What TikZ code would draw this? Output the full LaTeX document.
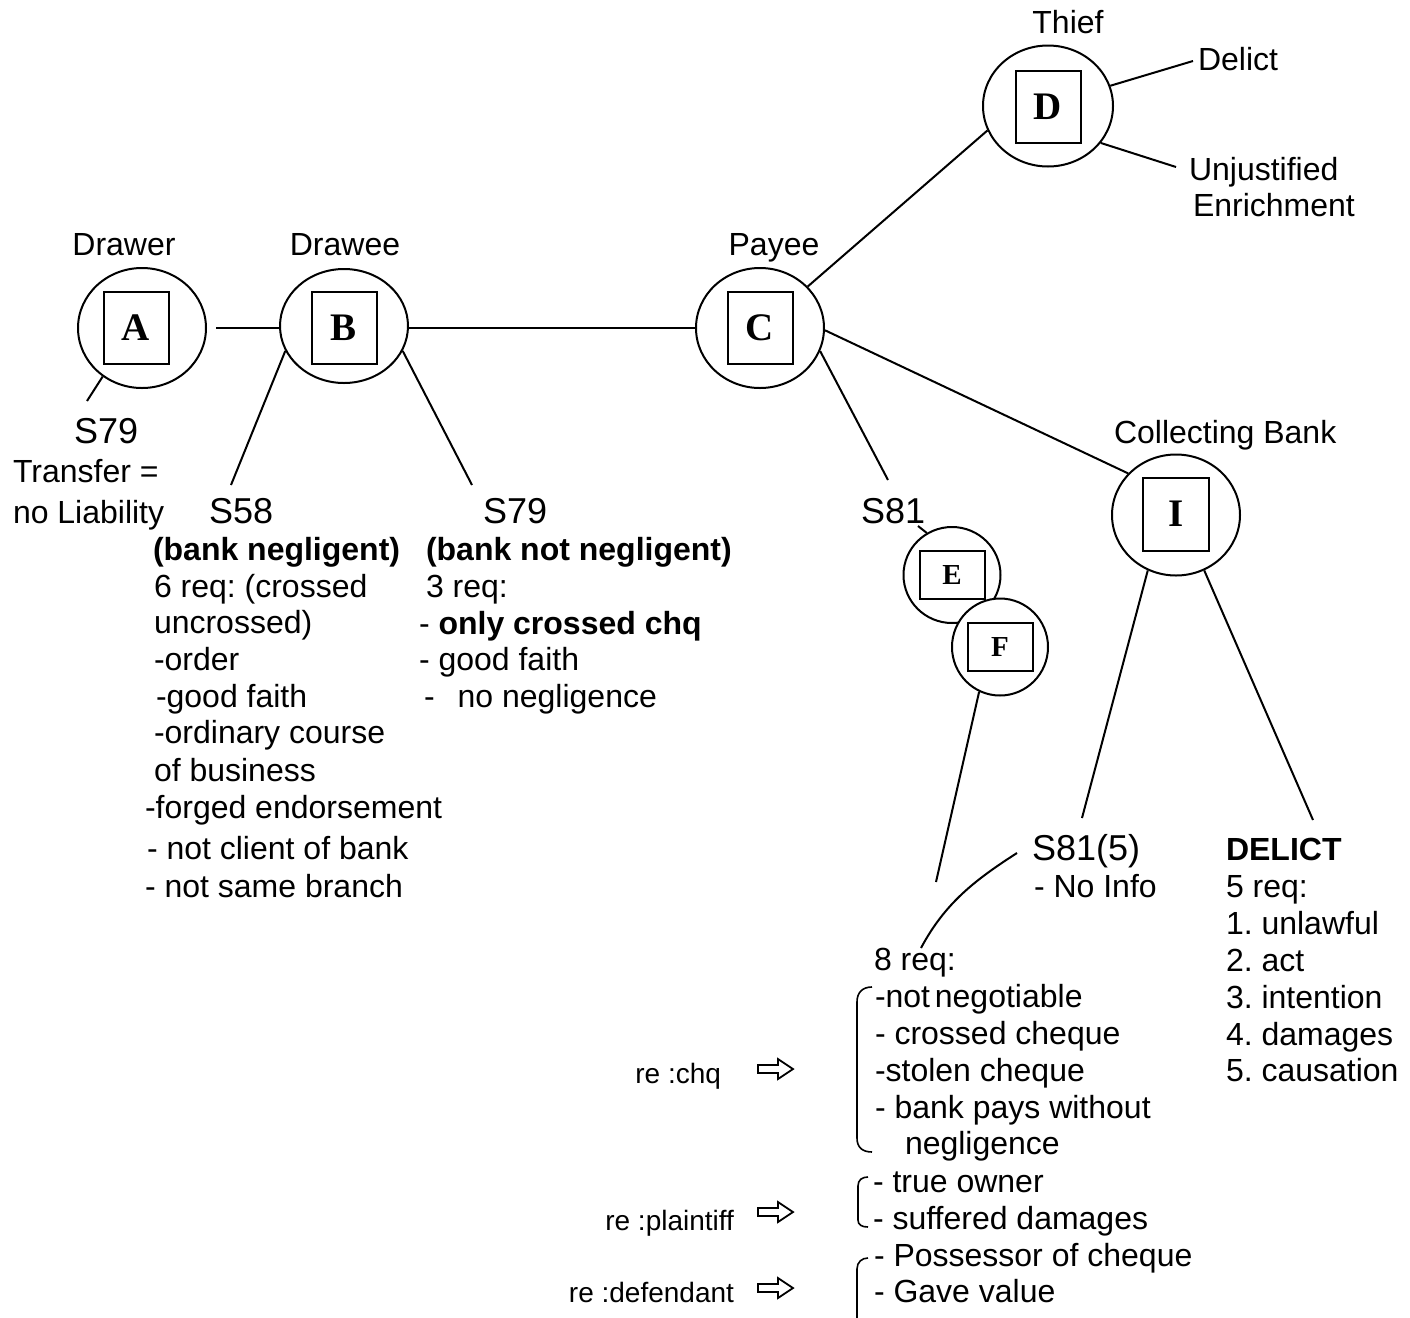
\documentclass[tikz,border=0pt]{standalone}
\usepackage{fontspec}
\setmainfont{Liberation Sans}
\newfontfamily\letterfont{Liberation Serif}
\usetikzlibrary{shapes.geometric,calc}
\frenchspacing
\begin{document}
\begin{tikzpicture}[x=0.5pt,y=-0.5pt, line width=1pt,
  circ/.style={draw, ellipse, inner sep=0pt, minimum width=64pt, minimum height=60pt},
  sq/.style={draw, rectangle, inner sep=0pt, minimum width=32.5pt, minimum height=36pt, font=\letterfont\bfseries\fontsize{19.5}{19.5}\selectfont},
  sqs/.style={draw, rectangle, inner sep=0pt, minimum width=32.5pt, minimum height=24pt, font=\letterfont\bfseries\fontsize{14.5}{14.5}\selectfont},
  txt/.style={anchor=base west, inner sep=0pt, font=\fontsize{16}{18}\selectfont},
  bigtxt/.style={anchor=base west, inner sep=0pt, font=\fontsize{18}{20}\selectfont},
  ctrtxt/.style={anchor=base, inner sep=0pt, font=\fontsize{16}{18}\selectfont},
  retxt/.style={anchor=base east, inner sep=0pt, font=\fontsize{14}{16}\selectfont},
  hollowarrow/.style={line width=0.9pt, line join=miter},
  bracketline/.style={line width=0.8pt}
]
\path[use as bounding box] (0,0) rectangle (1410,1318);

% circles
\node[circ] (cA) at (142,328) {};
\node[circ, minimum height=57pt] (cB) at (344,326) {};
\node[circ] (cC) at (760,328) {};
\node[circ, minimum width=65pt, minimum height=60.5pt] (cD) at (1048,106) {};
\node[circ, minimum height=60.5pt] (cI) at (1176,515) {};
\node[circ, minimum width=48.5pt, minimum height=48pt] (cE) at (952,575) {};
\node[circ, fill=white, minimum width=48pt, minimum height=48.5pt] (cF) at (1000,647) {};

% letter boxes
\node[sq] (bA) at (136,328) {A};
\node[sq] (bB) at (344,328) {B};
\node[sq] (bC) at (760,328) {C};
\node[sq] (bD) at (1048,107) {D};
\node[sq, minimum width=33pt, minimum height=36.5pt] (bI) at (1176,514) {I};
\node[sqs] (bE) at (952,575) {E};
\node[sqs] (bF) at (1000,647) {F};

% party labels
\node[ctrtxt] (lDrawer) at (124,255) {Drawer};
\node[ctrtxt] (lDrawee) at (345,255) {Drawee};
\node[ctrtxt] (lPayee) at (774,255) {Payee};
\node[ctrtxt] (lThief) at (1068,33) {Thief};
\node[txt] (lColl) at (1113,443) {Collecting Bank};
\node[txt] (lDelict) at (1197,70) {Delict};
\node[txt] (lUnj) at (1188,180) {Unjustified};
\node[txt] (lEnr) at (1192,216) {Enrichment};

% section labels
\node[bigtxt] (sA) at (73,443) {S79};
\node[txt] (tr1) at (12,482) {Transfer =};
\node[txt] (tr2) at (12,523) {no Liability};
\node[bigtxt] (s58) at (208,523) {S58};
\node[bigtxt] (s79) at (482,523) {S79};
\node[bigtxt] (s81) at (860,523) {S81};
\node[bigtxt] (s815) at (1031,860) {S81(5)};
\node[txt] (noinfo) at (1033,897) {- No Info};

% S58 list
\node[txt, font=\bfseries\fontsize{16}{18}\selectfont] (n1) at (152,560) {(bank negligent)};
\node[txt] (n2) at (153,597) {6 req: (crossed};
\node[txt] (n3) at (153,633) {uncrossed)};
\node[txt] (n4) at (153,670) {-order};
\node[txt] (n5) at (155,707) {-good faith};
\node[txt] (n6) at (153,743) {-ordinary course};
\node[txt] (n7) at (153,781) {of business};
\node[txt] (n8) at (144,818) {-forged endorsement};
\node[txt] (n9) at (146,859) {- not client of bank};
\node[txt] (n10) at (144,897) {- not same branch};

% S79 list
\node[txt, font=\bfseries\fontsize{16}{18}\selectfont] (m1) at (425,560) {(bank not negligent)};
\node[txt] (m2) at (425,597) {3 req:};
\node[txt] (m3) at (418,634) {- \textbf{only crossed chq}};
\node[txt] (m4) at (418,670) {- good faith};
\node[txt] (m5) at (423,707) {-\hspace{11.5pt}no negligence};

% DELICT list
\node[txt, font=\bfseries\fontsize{16}{18}\selectfont] (d1) at (1225,860) {DELICT};
\node[txt] (d2) at (1225,897) {5 req:};
\node[txt] (d3) at (1225,934) {1. unlawful};
\node[txt] (d4) at (1225,971) {2. act};
\node[txt] (d5) at (1225,1008) {3. intention};
\node[txt] (d6) at (1225,1045) {4. damages};
\node[txt] (d7) at (1225,1081) {5. causation};

% 8 req list
\node[txt] (r0) at (873,970) {8 req:};
\node[txt] (r1) at (874,1007) {-not\hspace{0.15em}negotiable};
\node[txt] (r2) at (874,1044) {- crossed cheque};
\node[txt] (r3) at (874,1081) {-stolen cheque};
\node[txt] (r4) at (874,1118) {- bank pays without};
\node[txt] (r5) at (904,1154) {negligence};
\node[txt] (r6) at (872,1192) {- true owner};
\node[txt] (r7) at (872,1229) {- suffered damages};
\node[txt] (r8) at (873,1266) {- Possessor of cheque};
\node[txt] (r9) at (873,1302) {- Gave value};

% re: labels
\node[retxt] (q1) at (722,1083) {re :chq};
\node[retxt] (q2) at (735,1230) {re :plaintiff};
\node[retxt] (q3) at (735,1302) {re :defendant};

% hollow arrows
\foreach \yy in {1069,1212,1288}
  \draw[hollowarrow] (758,\yy-4) -- (778,\yy-4) -- (778,\yy-10) -- (793,\yy)
     -- (778,\yy+10) -- (778,\yy+4) -- (758,\yy+4) -- cycle;

% brackets
\draw[bracketline] (872,987) .. controls (862,987) and (857,993) .. (857,1002)
   -- (857,1138) .. controls (857,1147) and (862,1152) .. (872,1152);
\draw[bracketline] (868,1177) .. controls (862,1177) and (858,1180) .. (858,1186)
   -- (858,1220) .. controls (858,1225) and (862,1227) .. (868,1227);
\draw[bracketline] (868,1258) .. controls (862,1258) and (857,1262) .. (857,1269)
   -- (857,1318);

% connectors
\coordinate (eA) at (87,401);
\draw (cA.231) -- (eA);
\draw ($(cA.east)+(9,0)$) -- (cB.west |- cA.east);
\draw (cB.east |- cC.west) -- (cC.west);
\coordinate (e58) at (231,485);
\draw (cB.203) -- (e58);
\coordinate (e79) at (472,485);
\draw (cB.337) -- (e79);
\draw (cC.41) -- (cD.202);
\draw (cC.358) -- (cI.139);
\coordinate (e81) at (888,480);
\draw (cC.339) -- (e81);
\coordinate (t81) at (918,526);
\draw (t81) -- (cE.121);
\coordinate (eF) at (936,882);
\draw (cF.245) -- (eF);
\coordinate (eDel) at (1193,61);
\draw (cD.18) -- (eDel);
\coordinate (eUnj) at (1176,167);
\draw (cD.325) -- (eUnj);
\coordinate (e815) at (1082,818);
\draw (cI.243) -- (e815);
\coordinate (eDL) at (1313,820);
\draw (cI.297) -- (eDL);
\coordinate (cv1) at (1017,853);
\coordinate (cv2) at (921,948);
\draw (cv1) .. controls (975,880) and (945,903) .. (cv2);
\end{tikzpicture}
\end{document}
